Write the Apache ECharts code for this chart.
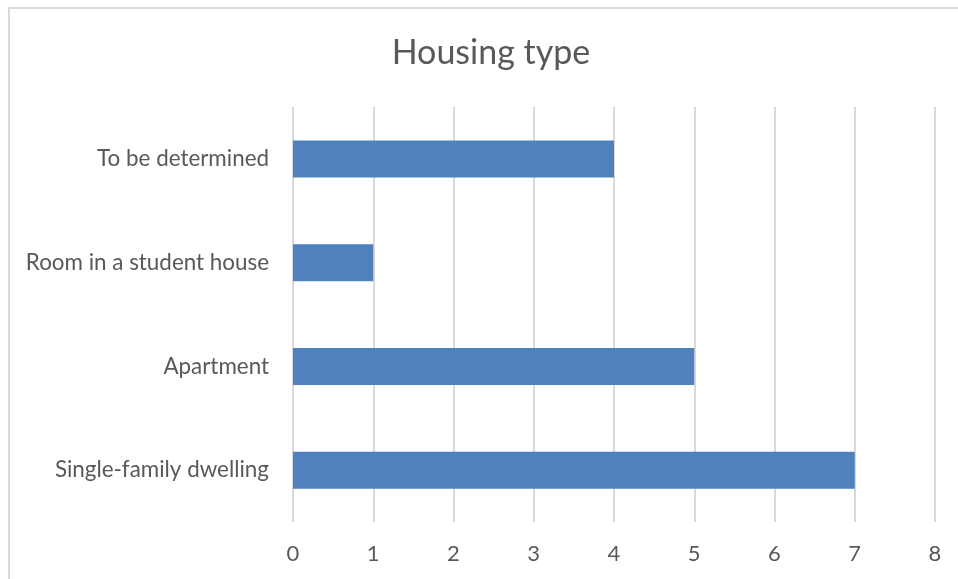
<!DOCTYPE html>
<html>
<head>
<meta charset="utf-8">
<script src="https://cdn.jsdelivr.net/npm/echarts@6/dist/echarts.min.js"></script>
<style>
  html, body { margin: 0; padding: 0; background: #ffffff; }
  #chart { width: 958px; height: 579px; }
</style>
</head>
<body>
<div id="chart"></div>
<script>
// Housing type counts, listed bottom to top as the category axis draws them
const categories = ['Single-family dwelling', 'Apartment', 'Room in a student house', 'To be determined'];
const counts = [7, 5, 1, 4];
const valueTicks = [0, 1, 2, 3, 4, 5, 6, 7, 8];

const chart = echarts.init(document.getElementById('chart'), null, { renderer: 'canvas' });

const fontFamily = 'Lato, "Open Sans", sans-serif';

chart.setOption({
  backgroundColor: '#ffffff',
  animation: false,
  title: {
    text: 'Housing type',
    left: 486,
    textAlign: 'center',
    top: 31,
    textStyle: { color: '#595959', fontSize: 34, fontWeight: 'normal', fontFamily: fontFamily }
  },
  graphic: [{
    type: 'rect',
    shape: { x: 9, y: 8, width: 980, height: 620 },
    style: { fill: 'none', stroke: '#d9d9d9', lineWidth: 2 },
    silent: true
  }],
  grid: { left: 293, right: 23, top: 107, bottom: 57, containLabel: false },
  xAxis: {
    type: 'value',
    min: valueTicks[0],
    max: valueTicks[valueTicks.length - 1],
    interval: 1,
    axisLine: { show: false },
    axisTick: { show: false },
    axisLabel: { color: '#595959', fontSize: 22, margin: 21, fontFamily: fontFamily },
    splitLine: { show: true, lineStyle: { color: '#d9d9d9', width: 2 } }
  },
  yAxis: {
    type: 'category',
    data: categories,
    axisLine: { show: false },
    axisTick: { show: false },
    axisLabel: { color: '#595959', fontSize: 22.4, margin: 24, fontFamily: fontFamily }
  },
  series: [{
    type: 'bar',
    data: counts,
    barWidth: 37,
    itemStyle: { color: '#4f81bd' }
  }]
});
</script>
</body>
</html>
